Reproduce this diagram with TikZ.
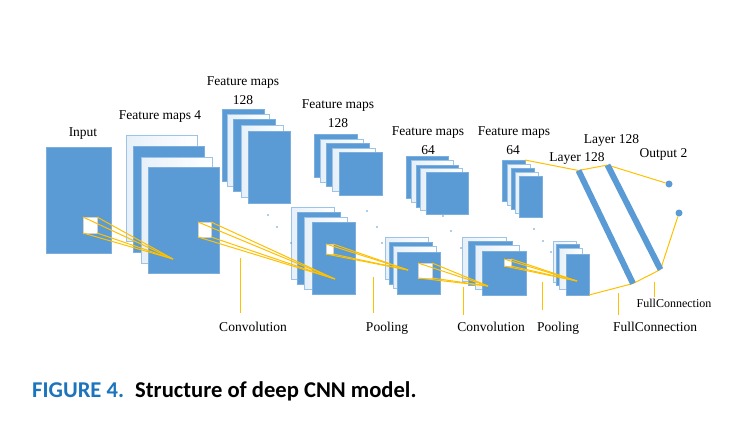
\documentclass[tikz,border=0pt]{standalone}
\usepackage{fontspec}
\setmainfont{Liberation Serif}
\newfontfamily\capfont{Carlito}
\definecolor{boxblue}{HTML}{5B9BD5}
\definecolor{edgeblue}{HTML}{9DC3E6}
\definecolor{linkyellow}{HTML}{FFC000}
\definecolor{capblue}{HTML}{1C75BC}
\begin{document}
\begin{tikzpicture}[x=1pt,y=-1pt,
  fm/.style={rectangle, inner sep=0pt, outer sep=0pt, anchor=north west},
  bb/.style={fm, fill=boxblue, draw=boxblue!80!white, line width=0.5pt},
  wb/.style={fm, top color=white, bottom color=white, left color=edgeblue!25, right color=white, draw=edgeblue, line width=0.9pt},
  sq/.style={fm, fill=white, draw=gray!35, line width=0.4pt},
  link/.style={draw=linkyellow, line width=1pt},
  vmarker/.style={draw=linkyellow, line width=1pt},
  lbl/.style={font=\fontsize{13.5}{16}\selectfont, inner sep=0pt, anchor=base},
  smalllbl/.style={font=\fontsize{12}{14}\selectfont, inner sep=0pt, anchor=base},
  tinydot/.style={circle, fill=boxblue, inner sep=0pt, minimum size=1.6pt},
  outdot/.style={circle, fill=boxblue, inner sep=0pt, minimum size=7pt},
  bar/.style={draw=boxblue, line width=6pt},
]
\useasboundingbox (0,0) rectangle (747,440);

% ---------- Input ----------
\node[bb, minimum width=65pt, minimum height=106pt] (inp) at (46,147) {};
\node[sq, minimum width=14pt, minimum height=16pt] (s0) at (83,217) {};

% ---------- Feature maps 4 ----------
\begin{scope}[every node/.append style={minimum width=71pt, minimum height=106pt}]
\node[wb] (f4a) at (126,135) {};
\node[bb] (f4b) at (133,146) {};
\node[wb] (f4c) at (141,157) {};
\node[bb] (f4d) at (148,167) {};
\end{scope}
\node[sq, minimum width=13pt, minimum height=15pt] (s1) at (198,222) {};

% ---------- Feature maps 128 (tall) ----------
\begin{scope}[every node/.append style={minimum width=42pt, minimum height=72pt}]
\node[bb] (fa1) at (222,109) {};
\node[wb] (fa2) at (227,114) {};
\node[bb] (fa3) at (233,119) {};
\node[wb] (fa4) at (241,125) {};
\node[bb] (fa5) at (248,131) {};
\end{scope}

% ---------- Feature maps 128 (square) ----------
\begin{scope}[every node/.append style={minimum width=43pt, minimum height=43pt}]
\node[bb] (fb1) at (314,134) {};
\node[wb] (fb2) at (320,139) {};
\node[bb] (fb3) at (326,143) {};
\node[wb] (fb4) at (332,148) {};
\node[bb] (fb5) at (339,152) {};
\end{scope}

% ---------- Feature maps 64 (square) ----------
\begin{scope}[every node/.append style={minimum width=42pt, minimum height=42pt}]
\node[bb] (fc1) at (406,156) {};
\node[wb] (fc2) at (411,160) {};
\node[bb] (fc3) at (416,165) {};
\node[wb] (fc4) at (420,168) {};
\node[bb] (fc5) at (426,172) {};
\end{scope}

% ---------- Feature maps 64 (narrow) ----------
\begin{scope}[every node/.append style={minimum width=23pt, minimum height=41pt}]
\node[bb] (fd1) at (502,160) {};
\node[wb] (fd2) at (507,164) {};
\node[bb] (fd3) at (511,168) {};
\node[wb] (fd4) at (515,172) {};
\node[bb] (fd5) at (519,176) {};
\end{scope}

% ---------- Lower stacks ----------
\begin{scope}[every node/.append style={minimum width=43pt, minimum height=72pt}]
\node[wb] (la1) at (291,207) {};
\node[bb] (la2) at (297,212) {};
\node[wb] (la3) at (304,217) {};
\node[bb] (la4) at (312,222) {};
\end{scope}
\node[sq, minimum width=7pt, minimum height=10pt] (s2) at (326,244) {};

\begin{scope}[every node/.append style={minimum width=43pt, minimum height=42pt}]
\node[wb] (lb1) at (385,237) {};
\node[bb] (lb2) at (389,242) {};
\node[wb] (lb3) at (393,246) {};
\node[bb] (lb4) at (397,252) {};
\end{scope}
\node[sq, minimum width=14pt, minimum height=15pt] (s3) at (418,263) {};

\begin{scope}[every node/.append style={minimum width=44pt, minimum height=44pt}]
\node[wb] (lc1) at (462,237) {};
\node[bb] (lc2) at (468,241) {};
\node[wb] (lc3) at (475,245) {};
\node[bb] (lc4) at (482,251) {};
\end{scope}
\node[sq, minimum width=7pt, minimum height=7pt] (s4) at (504,259) {};

\begin{scope}[every node/.append style={minimum width=23pt, minimum height=41pt}]
\node[wb] (ld1) at (553,241) {};
\node[bb] (ld2) at (556,244) {};
\node[wb] (ld3) at (559,248) {};
\node[bb] (ld4) at (566,254) {};
\end{scope}

% ---------- small dots ----------
\foreach \i/\p in {1/{(268,215)},2/{(277,227)},3/{(291,243)},4/{(367,211)},5/{(377,227)},
  6/{(443,216)},7/{(451,231)},8/{(461,248)},9/{(534,229)},10/{(543,241)},11/{(551,252)},12/{(382,243)}}
  \node[tinydot] (dot\i) at \p {};

% ---------- convergence points ----------
\coordinate (c1) at (173,259);
\coordinate (c2) at (335,279);
\coordinate (c3) at (408,270);
\coordinate (c4) at (488,286);
\coordinate (c5) at (577,281);

\foreach \s/\c in {s0/c1, s1/c2, s2/c3, s3/c4, s4/c5}{
  \draw[link] (\s.north west) -- (\c);
  \draw[link] (\s.north east) -- (\c);
  \draw[link] (\s.south west) -- (\c);
  \draw[link] (\s.south east) -- (\c);
}

% ---------- fully connected layers ----------
\coordinate (b1t) at (578.5,170.5);
\coordinate (b1b) at (633,283.5);
\coordinate (b2t) at (607.5,165);
\coordinate (b2b) at (660.5,269.5);
\node[outdot] (o1) at (669,184) {};
\node[outdot] (o2) at (679,213) {};

\draw[link] (fd1.north east) -- (b1t);
\draw[link] (b1t) -- (b2t);
\draw[link] (b2t) -- (o1);
\draw[link] (ld4.south east) -- (b1b);
\draw[link] (b1b) -- (b2b);
\draw[link] (b2b) -- (o2);
\draw[bar] (b1t) -- (b1b);
\draw[bar] (b2t) -- (b2b);

% ---------- markers ----------
\coordinate (m1t) at (240,258);  \coordinate (m1b) at (240,313);
\coordinate (m2t) at (373,277);  \coordinate (m2b) at (373,313);
\coordinate (m3t) at (463,287);  \coordinate (m3b) at (463,315);
\coordinate (m4t) at (542,282);  \coordinate (m4b) at (542,310);
\coordinate (m5t) at (618,293);  \coordinate (m5b) at (618,315);
\coordinate (m6t) at (654,282);  \coordinate (m6b) at (654,297);
\foreach \k in {1,...,6} \draw[vmarker] (m\k t) -- (m\k b);

% ---------- labels ----------
\node[lbl] (tinput) at (83,136) {Input};
\node[lbl] (tfm4) at (160,119) {Feature maps 4};
\node[lbl] (tfa) at (243,85) {Feature maps};
\node[lbl] (tfan) at (243,104) {128};
\node[lbl] (tfb) at (338,108) {Feature maps};
\node[lbl] (tfbn) at (338,127) {128};
\node[lbl] (tfc) at (428,135) {Feature maps};
\node[lbl] (tfcn) at (428,154) {64};
\node[lbl] (tfd) at (514,135) {Feature maps};
\node[lbl] (tfdn) at (513,154) {64};
\node[lbl] (tl1) at (577,161) {Layer 128};
\node[lbl] (tl2) at (611.5,143) {Layer 128};
\node[lbl] (tout) at (663.5,157) {Output 2};

\node[lbl] (tconv1) at (253,331) {Convolution};
\node[lbl] (tpool1) at (387,331) {Pooling};
\node[lbl] (tconv2) at (491,331) {Convolution};
\node[lbl] (tpool2) at (558,331) {Pooling};
\node[lbl] (tfc1) at (655,331) {FullConnection};
\node[smalllbl] (tfc2) at (674,307) {FullConnection};

% ---------- caption ----------
\node[inner sep=0pt, anchor=base west, font=\capfont\bfseries\fontsize{22.6}{26}\selectfont, text=capblue] (capa) at (32,397) {FIGURE 4.};
\node[inner sep=0pt, anchor=base west, font=\capfont\bfseries\fontsize{22.6}{26}\selectfont] (capb) at (135,397) {Structure of deep CNN model.};
\end{tikzpicture}
\end{document}
